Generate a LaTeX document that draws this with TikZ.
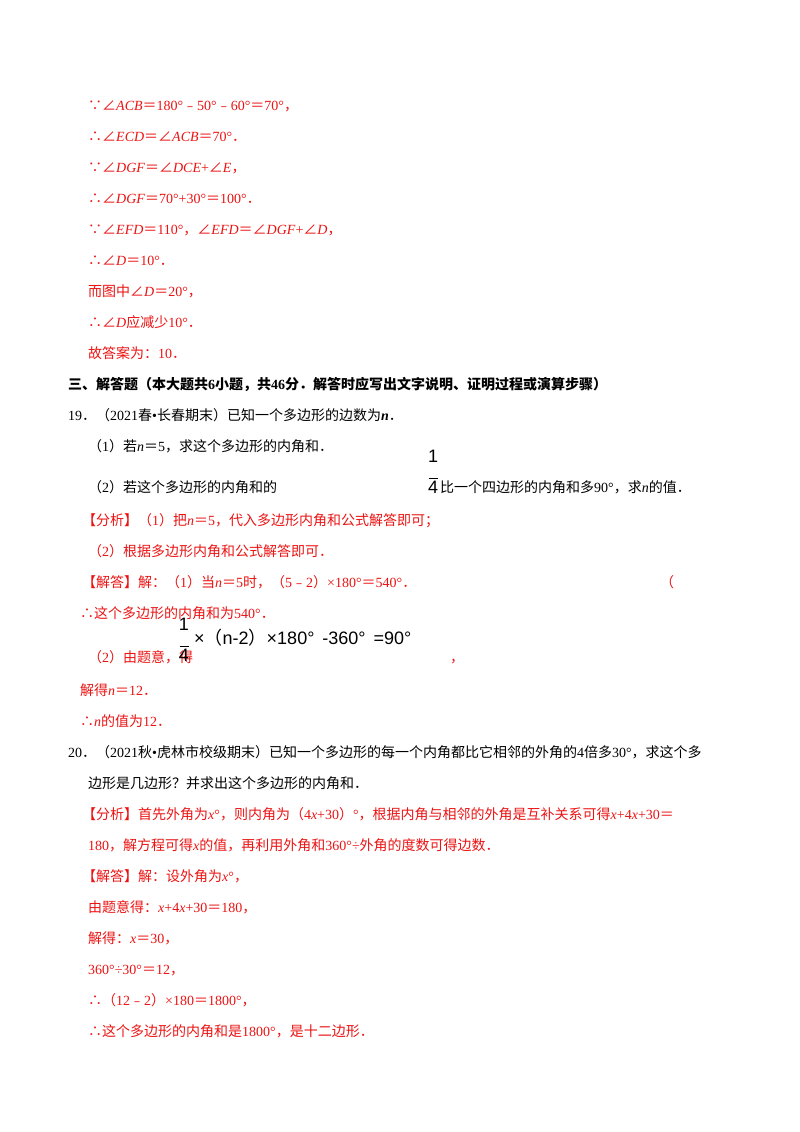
\documentclass[tikz,border=0pt]{standalone}
\usepackage{fontspec}
\setmainfont{Liberation Serif}
\newfontfamily\cjk{Noto Sans CJK SC}
\newfontfamily\sfx{Liberation Sans}
\XeTeXinterchartokenstate=1
\newXeTeXintercharclass\cjkcls
\count255="3000 \loop \XeTeXcharclass\count255=\cjkcls \ifnum\count255<"9FFF \advance\count255 1 \repeat
\count255="FE30 \loop \XeTeXcharclass\count255=\cjkcls \ifnum\count255<"FE6F \advance\count255 1 \repeat
\count255="FF00 \loop \XeTeXcharclass\count255=\cjkcls \ifnum\count255<"FFEF \advance\count255 1 \repeat
\XeTeXcharclass"2220=\cjkcls \XeTeXcharclass"2234=\cjkcls \XeTeXcharclass"2235=\cjkcls
\XeTeXinterchartoks 0 \cjkcls = {\begingroup\cjk}
\XeTeXinterchartoks 4095 \cjkcls = {\begingroup\cjk}
\XeTeXinterchartoks \cjkcls 0 = {\endgroup}
\XeTeXinterchartoks \cjkcls 4095 = {\endgroup}
\definecolor{ans}{RGB}{235,20,20}
\newcommand\vv[1]{\textit{#1}}
\begin{document}
\begin{tikzpicture}[x=1pt,y=-1pt,
  t/.style={anchor=base west,inner sep=0pt,font=\fontsize{14}{16}\selectfont},
  r/.style={t,text=ans}]
\useasboundingbox[fill=white] (0,0) rectangle (800,1132);
\node[r] (a1) at (88,110) {∵∠\vv{ACB}＝180°﹣50°﹣60°＝70°，};
\node[r] (a2) at (88,141) {∴∠\vv{ECD}＝∠\vv{ACB}＝70°．};
\node[r] (a3) at (88,172) {∵∠\vv{DGF}＝∠\vv{DCE}+∠\vv{E}，};
\node[r] (a4) at (88,203) {∴∠\vv{DGF}＝70°+30°＝100°．};
\node[r] (a5) at (88,234) {∵∠\vv{EFD}＝110°，∠\vv{EFD}＝∠\vv{DGF}+∠\vv{D}，};
\node[r] (a6) at (88,265) {∴∠\vv{D}＝10°．};
\node[r] (a7) at (88,296) {而图中∠\vv{D}＝20°，};
\node[r] (a8) at (88,327) {∴∠\vv{D}应减少10°．};
\node[r] (a9) at (88,358) {故答案为：10．};
\node[t,font=\fontsize{14}{16}\selectfont\bfseries] (h) at (68,389) {三、解答题（本大题共6小题，共46分．解答时应写出文字说明、证明过程或演算步骤）};
\node[t] (q19) at (68,420) {19．（2021春•长春期末）已知一个多边形的边数为\textbf{\vv{n}}．};
\node[t] (q1) at (88,451) {（1）若\vv{n}＝5，求这个多边形的内角和．};
\node[t] (q2a) at (88,492) {（2）若这个多边形的内角和的};
\node[t,font=\sfx\fontsize{18}{18}\selectfont,align=center,anchor=south] (f1) at (433,494) {1\\[-2pt]\rule{9pt}{0.8pt}\\[-3pt]4};
\node[t] (q2b) at (440,492) {比一个四边形的内角和多90°，求\vv{n}的值．};
\node[r] (b1) at (82,525) {【分析】（1）把\vv{n}＝5，代入多边形内角和公式解答即可；};
\node[r] (b2) at (88,556) {（2）根据多边形内角和公式解答即可．};
\node[r] (b3) at (82,587) {【解答】解：（1）当\vv{n}＝5时，（5﹣2）×180°＝540°．};
\node[r] (b4) at (660,587) {（};
\node[r] (b5) at (80,618) {∴这个多边形的内角和为540°．};
\node[r] (b6) at (88,662) {（2）由题意，得};
\node[t,font=\sfx\fontsize{18}{18}\selectfont,align=center,anchor=south] (f2) at (184,662) {1\\[-2pt]\rule{9pt}{0.8pt}\\[-3pt]4};
\node[t,font=\sfx\fontsize{18}{18}\selectfont] (b7) at (194,644) {×（n-2）×180°\, -360°\, =90°};
\node[r] (b8) at (450,662) {，};
\node[r] (b9) at (80,695) {解得\vv{n}＝12．};
\node[r] (b10) at (80,726) {∴\vv{n}的值为12．};
\node[t] (q20) at (68,757) {20．（2021秋•虎林市校级期末）已知一个多边形的每一个内角都比它相邻的外角的4倍多30°，求这个多};
\node[t] (q20b) at (88,788) {边形是几边形？并求出这个多边形的内角和．};
\node[r] (c1) at (82,819) {【分析】首先外角为\vv{x}°，则内角为（4\vv{x}+30）°，根据内角与相邻的外角是互补关系可得\vv{x}+4\vv{x}+30＝};
\node[r] (c2) at (88,850) {180，解方程可得\vv{x}的值，再利用外角和360°÷外角的度数可得边数．};
\node[r] (c3) at (82,881) {【解答】解：设外角为\vv{x}°，};
\node[r] (c4) at (88,912) {由题意得：\vv{x}+4\vv{x}+30＝180，};
\node[r] (c5) at (88,943) {解得：\vv{x}＝30，};
\node[r] (c6) at (88,974) {360°÷30°＝12，};
\node[r] (c7) at (88,1005) {∴（12﹣2）×180＝1800°，};
\node[r] (c8) at (88,1036) {∴这个多边形的内角和是1800°，是十二边形．};
\end{tikzpicture}
\end{document}
